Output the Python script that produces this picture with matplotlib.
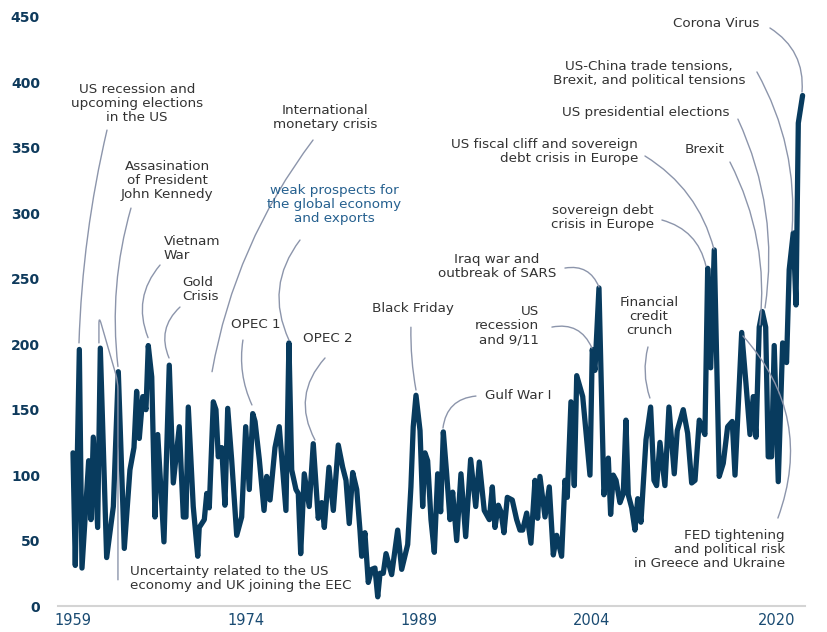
import matplotlib
matplotlib.use("Agg")
from matplotlib import pyplot as plt

# uncertainty index (decimal year, index value)
years = [1959.0, 1959.2, 1959.55, 1959.78, 1960.36, 1960.56, 1960.76, 1961.14, 1961.37, 1961.92,
         1962.5, 1962.93, 1963.45, 1963.94, 1964.29, 1964.52, 1964.75, 1965.05, 1965.33, 1965.53,
         1965.83, 1966.11, 1966.35, 1966.89, 1967.35, 1967.7, 1968.22, 1968.57, 1968.8, 1969.0,
         1969.43, 1969.82, 1969.95, 1970.39, 1970.6, 1970.82, 1971.17, 1971.4, 1971.6, 1971.9,
         1972.18, 1972.42, 1972.76, 1973.2, 1973.63, 1973.98, 1974.29, 1974.59, 1974.79, 1975.16,
         1975.57, 1975.8, 1976.09, 1976.52, 1976.89, 1977.47, 1977.73, 1977.97, 1978.34, 1978.54,
         1978.75, 1979.06, 1979.49, 1979.84, 1980.27, 1980.57, 1980.8, 1981.2, 1981.58, 1982.01,
         1982.39, 1982.68, 1982.96, 1983.26, 1983.61, 1983.89, 1984.04, 1984.32, 1984.61, 1984.91,
         1985.19, 1985.43, 1985.63, 1985.91, 1986.15, 1986.64, 1987.16, 1987.51, 1988.03, 1988.31,
         1988.51, 1988.75, 1989.1, 1989.33, 1989.53, 1989.76, 1990.05, 1990.34, 1990.63, 1990.89,
         1991.12, 1991.41, 1991.7, 1991.93, 1992.28, 1992.65, 1993.06, 1993.49, 1993.93, 1994.24,
         1994.67, 1995.11, 1995.37, 1995.6, 1995.89, 1996.12, 1996.38, 1996.67, 1997.1, 1997.48,
         1997.77, 1998.0, 1998.35, 1998.72, 1999.07, 1999.3, 1999.5, 1999.94, 2000.31, 2000.66,
         2000.95, 2001.38, 2001.67, 2001.87, 2002.19, 2002.48, 2002.69, 2003.21, 2003.84, 2004.04,
         2004.27, 2004.62, 2005.05, 2005.43, 2005.63, 2005.86, 2006.1, 2006.44, 2006.73, 2006.96,
         2007.16, 2007.46, 2007.74, 2007.98, 2008.26, 2008.7, 2009.1, 2009.39, 2009.62, 2009.91,
         2010.34, 2010.69, 2011.15, 2011.41, 2011.93, 2012.31, 2012.66, 2012.95, 2013.32, 2013.58,
         2013.81, 2014.05, 2014.31, 2014.62, 2015.05, 2015.4, 2015.78, 2016.18, 2016.42, 2017.0,
         2017.37, 2017.72, 2018.0, 2018.24, 2018.52, 2018.78, 2019.08, 2019.3, 2019.59, 2019.82,
         2020.17, 2020.55, 2020.89, 2021.12, 2021.47, 2021.71, 2021.91, 2022.28]
uncertainty = [117, 31, 196, 29, 111, 66, 129, 60, 197, 37,
               76, 179, 44, 104, 121, 164, 128, 160, 150, 199,
               175, 68, 131, 49, 184, 94, 137, 68, 68, 152,
               76, 38, 60, 66, 86, 75, 156, 150, 114, 121,
               77, 151, 112, 54, 68, 137, 89, 147, 141, 112,
               73, 99, 81, 121, 137, 73, 201, 104, 89, 86,
               40, 101, 76, 124, 67, 79, 60, 106, 73, 123,
               106, 96, 63, 102, 89, 58, 38, 56, 18, 28,
               29, 7, 25, 25, 40, 24, 58, 28, 47, 91,
               137, 161, 134, 76, 117, 111, 66, 41, 101, 72,
               133, 101, 66, 87, 50, 101, 53, 112, 76, 110,
               73, 66, 91, 60, 77, 72, 56, 83, 81, 66,
               58, 58, 71, 48, 96, 67, 99, 68, 91, 39,
               54, 38, 96, 83, 156, 92, 176, 160, 100, 196,
               180, 243, 85, 113, 70, 100, 96, 79, 86, 142,
               85, 75, 58, 82, 64, 127, 152, 96, 92, 125,
               92, 152, 101, 134, 150, 132, 94, 96, 142, 136,
               131, 258, 182, 272, 99, 109, 137, 141, 100, 209,
               170, 131, 160, 129, 213, 225, 213, 114, 114, 199,
               95, 201, 186, 257, 285, 230, 369, 390]

x_ticks = [1959, 1974, 1989, 2004, 2020]
y_ticks = list(range(0, 451, 50))

# events: label, text anchor, alignment, connector start, connector end, curvature
events = [
    ("US recession and\nupcoming elections\nin the US", (1964.55, 384), "center", (1961.95, 363.6), (1959.52, 201), 0.05),
    ("Assasination\nof President\nJohn Kennedy", (1967.15, 325), "center", (1964.03, 304), (1962.9, 183), 0.1),
    ("Vietnam\nWar", (1966.89, 273.5), "left", (1966.55, 260.5), (1965.51, 205), 0.3),
    ("Gold\nCrisis", (1968.45, 242), "left", (1968.28, 228.4), (1967.33, 189.5), 0.35),
    ("International\nmonetary crisis", (1980.86, 373), "center", (1979.82, 356), (1971.06, 179), 0.12),
    ("OPEC 1", (1974.87, 215.4), "center", (1973.74, 203.2), (1974.52, 153.6), 0.15),
    ("OPEC 2", (1981.12, 204.7), "center", (1980.86, 189.5), (1979.99, 126.8), 0.35),
    ("Black Friday", (1988.49, 227), "center", (1988.31, 213), (1988.75, 165), 0.05),
    ("Gulf War I", (1997.6, 161), "center", (1993.95, 160.4), (1991.09, 136), 0.4),
    ("US\nrecession\nand 9/11", (1999.4, 214), "right", (2000.54, 213.1), (2004.01, 197.1), -0.4),
    ("Iraq war and\noutbreak of SARS", (1995.77, 259), "center", (2001.67, 258.2), (2004.62, 243.7), -0.4),
    ("Financial\ncredit\ncrunch", (2008.96, 221), "center", (2008.87, 197.9), (2009.04, 158.9), 0.15),
    ("sovereign debt\ncrisis in Europe", (2004.97, 297), "center", (2010.08, 294.9), (2013.9, 259.7), -0.3),
    ("US fiscal cliff and sovereign\ndebt crisis in Europe", (2008.0, 347.6), "right", (2008.61, 343.8), (2014.59, 272.7), -0.2),
    ("Brexit", (2013.81, 348.4), "center", (2015.98, 339.2), (2018.58, 214.7), -0.15),
    ("US presidential elections", (2008.7, 377.4), "center", (2016.67, 372), (2019.02, 227.7), -0.15),
    ("US-China trade tensions,\nBrexit, and political tensions", (2008.96, 407), "center", (2018.32, 408), (2021.36, 286.5), -0.15),
    ("Corona Virus", (2014.77, 445.4), "center", (2019.45, 441.6), (2022.23, 392.7), -0.3),
    ("FED tightening\nand political risk\nin Greece and Ukraine", (2020.75, 42.8), "right", (2020.14, 67.2), (2017.11, 206.3), 0.3),
]

NAVY = "#083b5e"
GREY_TXT = "#333333"
CONNECT = "#8c95ab"


def main():
    plt.rcParams["font.family"] = ["DejaVu Sans"]
    fig = plt.figure(figsize=(8.27, 6.32), dpi=100)
    ax = fig.add_axes([58 / 827, 26 / 632, 747 / 827, 589 / 632])
    ax.set_xlim(1957.7, 2022.49)
    ax.set_ylim(0, 450)

    ax.plot(years, uncertainty, color=NAVY, lw=3.8, solid_joinstyle="round",
            solid_capstyle="round", zorder=3, clip_on=False)

    for side in ("top", "right", "left"):
        ax.spines[side].set_visible(False)
    ax.spines["bottom"].set_color("#d4d4d4")
    ax.spines["bottom"].set_linewidth(1.5)

    ax.set_yticks(y_ticks)
    ax.set_yticklabels([str(v) for v in y_ticks], fontsize=10, fontweight="bold", color="#0e3a5c")
    ax.set_xticks(x_ticks)
    ax.set_xticklabels([str(v) for v in x_ticks], fontsize=10.5, color="#1a4b72")
    ax.tick_params(axis="y", length=0, pad=13)
    ax.tick_params(axis="x", length=0, pad=5)

    for label, pos, ha, start, end, rad in events:
        ax.text(pos[0], pos[1], label, ha=ha, va="center", fontsize=9.7,
                color=GREY_TXT, linespacing=1.1, zorder=5)
        ax.annotate("", xy=end, xytext=start,
                    arrowprops=dict(arrowstyle="-", color=CONNECT, lw=1.0,
                                    shrinkA=0, shrinkB=0,
                                    connectionstyle="arc3,rad=%s" % rad),
                    zorder=4)

    # highlighted label in blue
    ax.text(1981.64, 307, "weak prospects for\nthe global economy\nand exports", ha="center",
            va="center", fontsize=9.7, color="#25608f", linespacing=1.1, zorder=5)
    ax.annotate("", xy=(1977.73, 203.2), xytext=(1978.69, 279.6),
                arrowprops=dict(arrowstyle="-", color=CONNECT, lw=1.0, shrinkA=0, shrinkB=0,
                                connectionstyle="arc3,rad=0.3"), zorder=4)

    # the EEC label loops up and over before dropping onto the 1961 peak
    ax.text(1963.94, 21, "Uncertainty related to the US\neconomy and UK joining the EEC",
            ha="left", va="center", fontsize=9.7, color=GREY_TXT, linespacing=1.1, zorder=5)
    ax.annotate("", xy=(1961.25, 201), xytext=(1962.9, 20),
                arrowprops=dict(arrowstyle="-", color=CONNECT, lw=1.0, shrinkA=0, shrinkB=0,
                                connectionstyle="arc,angleA=90,armA=198,angleB=90,armB=27,rad=8"),
                zorder=4)

    fig.savefig("out.png", dpi=100)


if __name__ == "__main__":
    main()
